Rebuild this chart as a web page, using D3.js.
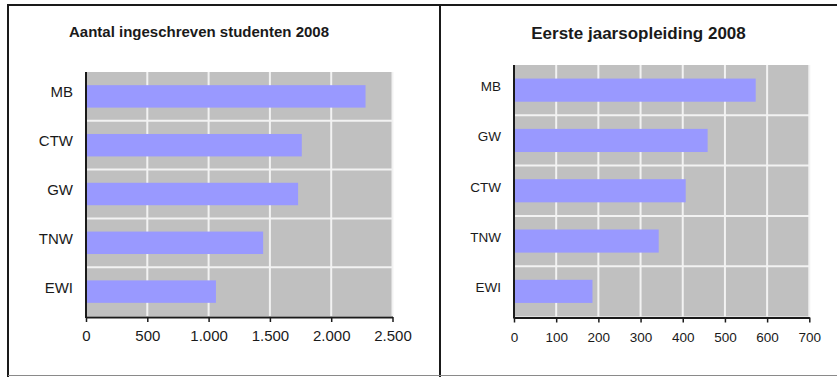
<!DOCTYPE html>
<html>
<head>
<meta charset="utf-8">
<script src="https://cdn.jsdelivr.net/npm/d3@7"></script>
<style>
  html, body { margin: 0; padding: 0; background: #fff; }
  svg { display: block; }
  text { font-family: Arial, "Liberation Sans", sans-serif; fill: #1a1a1a; }
</style>
</head>
<body>
<svg id="chart" width="837" height="377"></svg>
<script>
// Ingeschreven studenten per faculteit, 2008
const categoriesTotal = ["MB", "CTW", "GW", "TNW", "EWI"];
const valuesTotal = [2280, 1760, 1730, 1445, 1060];
const ticksTotal = [0, 500, 1000, 1500, 2000, 2500];
const titleTotal = "Aantal ingeschreven studenten 2008";

// Eerstejaars per opleiding, 2008
const categoriesFirst = ["MB", "GW", "CTW", "TNW", "EWI"];
const valuesFirst = [573, 459, 407, 343, 186];
const ticksFirst = [0, 100, 200, 300, 400, 500, 600, 700];
const titleFirst = "Eerste jaarsopleiding 2008";

const nl = d3.formatLocale({ decimal: ",", thousands: ".", grouping: [3], currency: ["€", ""] });
const fmt = nl.format(",d");

const svg = d3.select("#chart");

// panel frames
const frame = svg.append("g");
frame.append("line").attr("x1", 8).attr("x2", 837).attr("y1", 5).attr("y2", 5)
  .attr("stroke", "#1a1a1a").attr("stroke-width", 2);
frame.append("line").attr("x1", 8).attr("x2", 8).attr("y1", 4).attr("y2", 377)
  .attr("stroke", "#1a1a1a").attr("stroke-width", 2);
frame.append("line").attr("x1", 440).attr("x2", 440).attr("y1", 4).attr("y2", 377)
  .attr("stroke", "#1a1a1a").attr("stroke-width", 2);
frame.append("line").attr("x1", 8).attr("x2", 837).attr("y1", 375.5).attr("y2", 375.5)
  .attr("stroke", "#8a8a8a").attr("stroke-width", 1);

function drawPanel(cfg) {
  const g = svg.append("g");
  const x = d3.scaleLinear().domain([cfg.ticks[0], cfg.ticks[cfg.ticks.length - 1]])
    .range([cfg.left, cfg.right]);
  const y = d3.scaleBand().domain(cfg.categories).range([cfg.top, cfg.bottom])
    .paddingInner(0.54).paddingOuter(0.27);

  // plot background
  g.append("rect").attr("x", cfg.left).attr("y", cfg.top)
    .attr("width", cfg.right - cfg.left).attr("height", cfg.bottom - cfg.top)
    .attr("fill", "#c0c0c0");

  // vertical gridlines
  g.append("g").selectAll("line").data(cfg.ticks.slice(1)).join("line")
    .attr("x1", d => x(d)).attr("x2", d => x(d))
    .attr("y1", cfg.top).attr("y2", cfg.bottom)
    .attr("stroke", "#f2f2f2").attr("stroke-width", 2);

  // horizontal gridlines between categories
  const step = y.step();
  g.append("g").selectAll("line").data(cfg.categories.slice(1)).join("line")
    .attr("x1", cfg.left).attr("x2", cfg.right)
    .attr("y1", d => y(d) - step * y.paddingInner() / 2)
    .attr("y2", d => y(d) - step * y.paddingInner() / 2)
    .attr("stroke", "#f2f2f2").attr("stroke-width", 2);

  // bars
  g.append("g").selectAll("rect").data(cfg.values).join("rect")
    .attr("x", x(0))
    .attr("y", (d, i) => y(cfg.categories[i]))
    .attr("width", d => x(d) - x(0))
    .attr("height", y.bandwidth())
    .attr("fill", "#9999ff");

  // category labels
  g.append("g").selectAll("text").data(cfg.categories).join("text")
    .attr("x", cfg.left - 13)
    .attr("y", d => y(d) + y.bandwidth() / 2 + 1)
    .attr("text-anchor", "end")
    .style("font-size", cfg.labelSize + "px")
    .text(d => d);

  // x axis
  const axis = d3.axisBottom(x).tickValues(cfg.ticks).tickFormat(fmt)
    .tickSize(5).tickPadding(0).tickSizeOuter(0);
  const ax = g.append("g").attr("transform", `translate(0,${cfg.bottom + 1})`).call(axis);
  ax.select(".domain").attr("stroke", "#1a1a1a").attr("stroke-width", 2);
  ax.selectAll(".tick line").attr("stroke", "#1a1a1a").attr("stroke-width", 1.5);
  ax.selectAll(".tick text")
    .attr("y", 24).attr("dy", null)
    .style("font-size", cfg.labelSize + "px")
    .style("font-family", "Arial, 'Liberation Sans', sans-serif")
    .attr("fill", "#1a1a1a");

  // y axis line
  g.append("line").attr("x1", cfg.left).attr("x2", cfg.left)
    .attr("y1", cfg.top).attr("y2", cfg.bottom + 2)
    .attr("stroke", "#1a1a1a").attr("stroke-width", 2);

  // title
  g.append("text").attr("x", cfg.titleX).attr("y", cfg.titleY)
    .attr("text-anchor", "middle")
    .style("font-size", cfg.titleSize + "px").style("font-weight", "bold")
    .text(cfg.title);
}

drawPanel({
  categories: categoriesTotal, values: valuesTotal, ticks: ticksTotal, title: titleTotal,
  left: 86, right: 392.5, top: 72, bottom: 316,
  labelSize: 15, titleSize: 15, titleX: 199, titleY: 37
});

drawPanel({
  categories: categoriesFirst, values: valuesFirst, ticks: ticksFirst, title: titleFirst,
  left: 514, right: 809.3, top: 65, bottom: 316.5,
  labelSize: 13.5, titleSize: 17, titleX: 638.5, titleY: 39
});
</script>
</body>
</html>
